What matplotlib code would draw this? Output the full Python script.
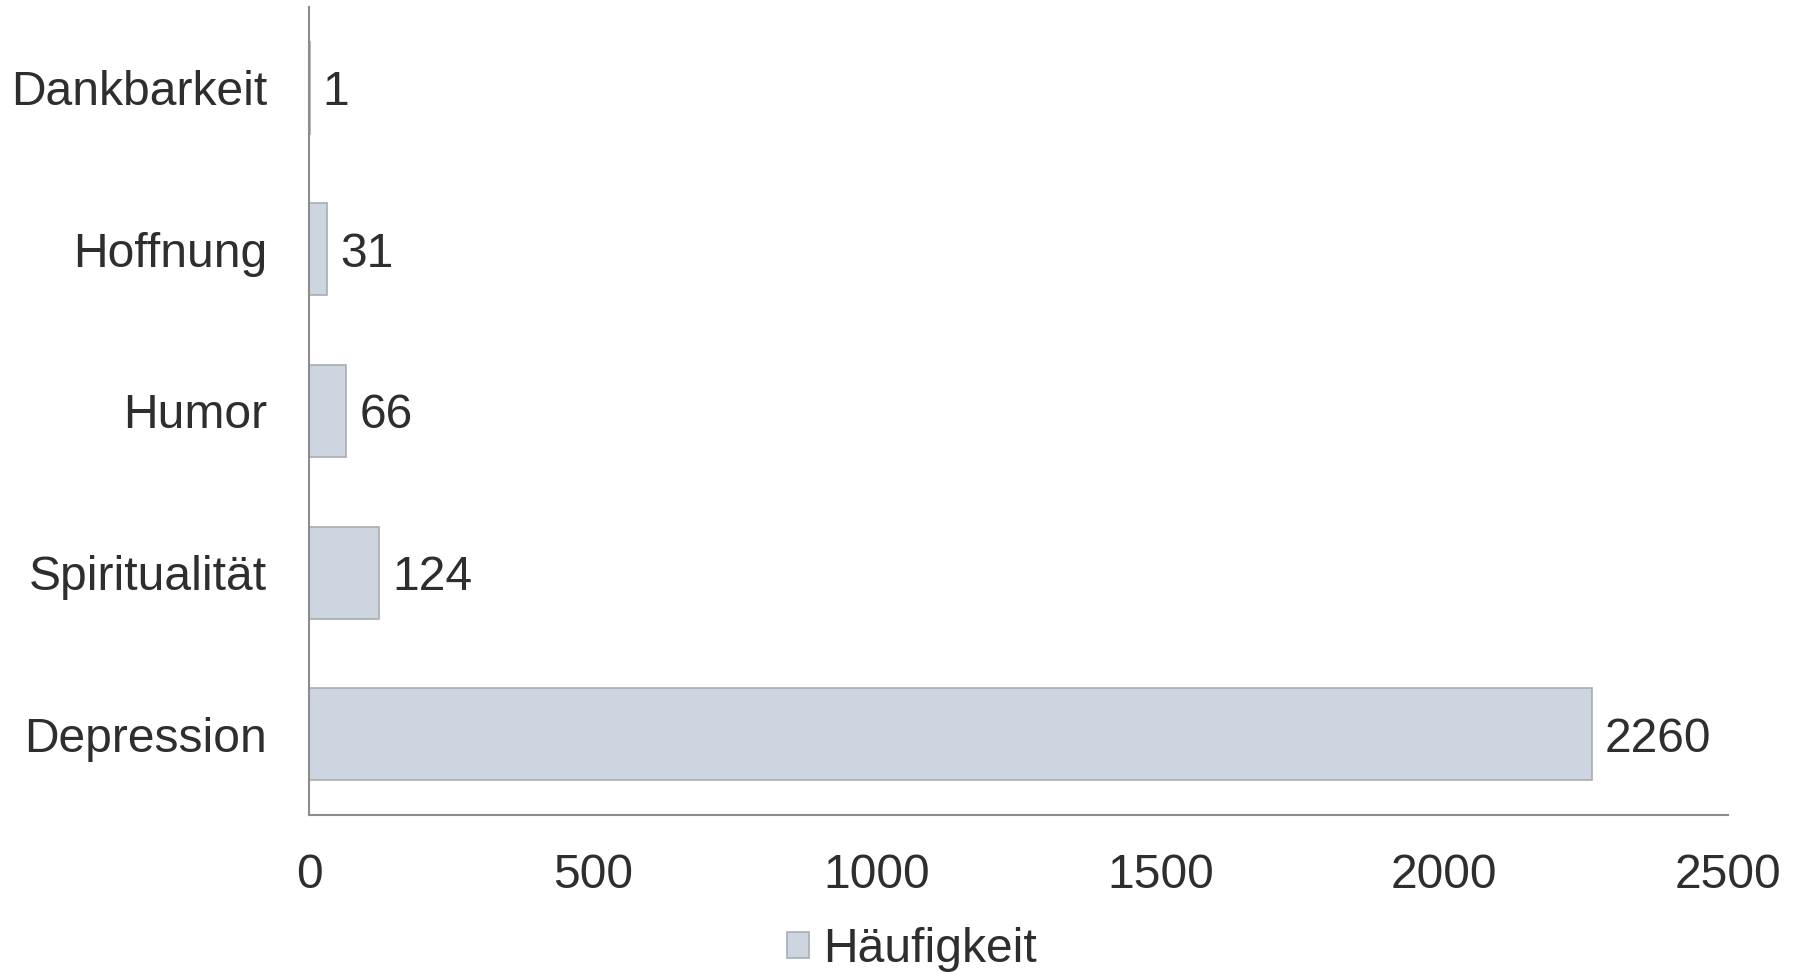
import matplotlib
matplotlib.use("Agg")
import matplotlib.pyplot as plt
import numpy as np

categories = ["Depression", "Spiritualität", "Humor", "Hoffnung", "Dankbarkeit"]
values = [2260, 124, 66, 31, 1]
xticks = [0, 500, 1000, 1500, 2000, 2500]
series_name = "Häufigkeit"

plt.rcParams['font.family'] = ['Liberation Sans', 'DejaVu Sans']
text_color = "#2e2e2e"
bar_color = "#cdd6e0"
edge_color = "#a8acb1"
axis_color = "#8c8c8c"
fs = 34.6

fig = plt.figure(figsize=(17.99, 9.74), dpi=100)
ax = fig.add_axes([309/1799, 1-815/974, (1728-309)/1799, (815-7)/974])

y = np.arange(len(categories))
bars = ax.barh(y, values, height=0.57, color=bar_color, edgecolor=edge_color,
               linewidth=1.2, label=series_name)

ax.set_xlim(0, 2500)
ax.set_ylim(-0.5, 4.5)
ax.set_yticks(y)
ax.set_yticklabels(categories)
ax.set_xticks(xticks)
ax.set_xticklabels([str(t) for t in xticks])
ax.tick_params(axis='both', length=0, labelsize=fs, colors=text_color)
ax.tick_params(axis='x', pad=27)
ax.tick_params(axis='y', pad=30)

for s in ['top', 'right']:
    ax.spines[s].set_visible(False)
for s in ['left', 'bottom']:
    ax.spines[s].set_color(axis_color)
    ax.spines[s].set_linewidth(1.5)

for b, v in zip(bars, values):
    ax.annotate(str(v), (b.get_width(), b.get_y() + b.get_height()/2),
                xytext=(9.5, -3.5), textcoords='offset points',
                va='center', ha='left', fontsize=fs, color=text_color)

leg = fig.legend(handles=[bars], labels=[series_name], loc='center',
                 bbox_to_anchor=(0.507, 1-950/974), frameon=False,
                 fontsize=fs, handlelength=0.45, handleheight=0.45,
                 handletextpad=0.3, labelcolor=text_color)

fig.savefig("out.png", dpi=100, facecolor="white")
